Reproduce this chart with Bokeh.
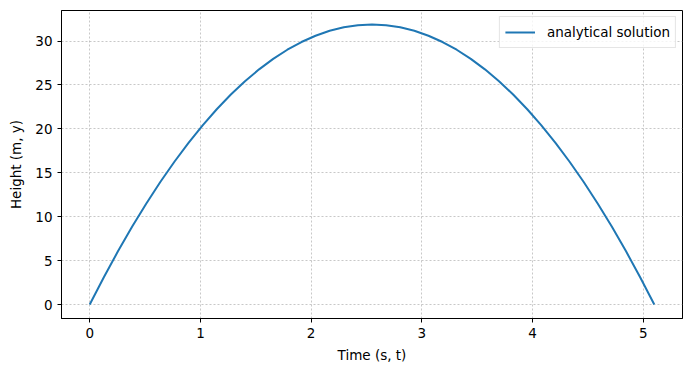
from bokeh.plotting import figure
from bokeh.models import Range1d, FixedTicker, Legend, LegendItem
from bokeh.embed import file_html
from bokeh.resources import INLINE

time_s = [0.0, 0.1275, 0.255, 0.3825, 0.51, 0.6375, 0.765, 0.8925, 1.02, 1.1475,
          1.275, 1.4025, 1.53, 1.6575, 1.785, 1.9125, 2.04, 2.1675, 2.295, 2.4225,
          2.55, 2.6775, 2.805, 2.9325, 3.06, 3.1875, 3.315, 3.4425, 3.57, 3.6975,
          3.825, 3.9525, 4.08, 4.2075, 4.335, 4.4625, 4.59, 4.7175, 4.845, 4.9725, 5.1]
height_m = [0.0, 3.108, 6.056, 8.846, 11.475, 13.946, 16.257, 18.409, 20.402, 22.235,
            23.910, 25.424, 26.780, 27.976, 29.013, 29.890, 30.608, 31.167, 31.567, 31.807,
            31.888, 31.807, 31.567, 31.167, 30.608, 29.890, 29.013, 27.976, 26.780, 25.424,
            23.910, 22.235, 20.402, 18.409, 16.257, 13.946, 11.475, 8.846, 6.056, 3.108, 0.0]
x_ticks = [0, 1, 2, 3, 4, 5]
y_ticks = [0, 5, 10, 15, 20, 25, 30]

p = figure(width=691, height=374, output_backend="svg", toolbar_location=None,
           x_range=Range1d(-0.255, 5.355), y_range=Range1d(-1.594, 33.48),
           min_border_left=61, min_border_right=9, min_border_top=10, min_border_bottom=56)
p.background_fill_color = "white"
p.border_fill_color = "white"
p.outline_line_color = "black"
p.outline_line_width = 1

line = p.line(time_s, height_m, line_color="#1f77b4", line_width=2)

for ax in (p.xaxis[0], p.yaxis[0]):
    ax.major_label_text_font = "DejaVu Sans"
    ax.major_label_text_font_size = "13.5px"
    ax.major_label_text_color = "black"
    ax.axis_label_text_font = "DejaVu Sans"
    ax.axis_label_text_font_size = "13.5px"
    ax.axis_label_text_font_style = "normal"
    ax.axis_label_text_color = "black"
    ax.major_tick_in = 0
    ax.major_tick_out = 4
    ax.minor_tick_out = 0
    ax.minor_tick_in = 0
    ax.axis_line_color = "black"
    ax.major_tick_line_color = "black"

p.xaxis[0].ticker = FixedTicker(ticks=x_ticks)
p.yaxis[0].ticker = FixedTicker(ticks=y_ticks)
p.xaxis[0].axis_label = "Time (s, t)"
p.yaxis[0].axis_label = "Height (m, y)"
p.xaxis[0].axis_label_standoff = 6
p.yaxis[0].axis_label_standoff = 8

for g in (p.xgrid[0], p.ygrid[0]):
    g.grid_line_color = "#b0b0b0"
    g.grid_line_width = 0.7
    g.grid_line_dash = "2 2"

legend = Legend(items=[LegendItem(label="analytical solution", renderers=[line])],
                location="top_right")
legend.label_text_font = "DejaVu Sans"
legend.label_text_font_size = "13.5px"
legend.label_text_color = "black"
legend.border_line_color = "#cccccc"
legend.border_line_width = 1
legend.background_fill_alpha = 0.8
legend.margin = 6
legend.padding = 5
legend.spacing = 0
legend.glyph_width = 30
legend.label_standoff = 12
legend.label_height = 16
p.add_layout(legend)

open("out.html", "w").write(file_html(p, INLINE))
